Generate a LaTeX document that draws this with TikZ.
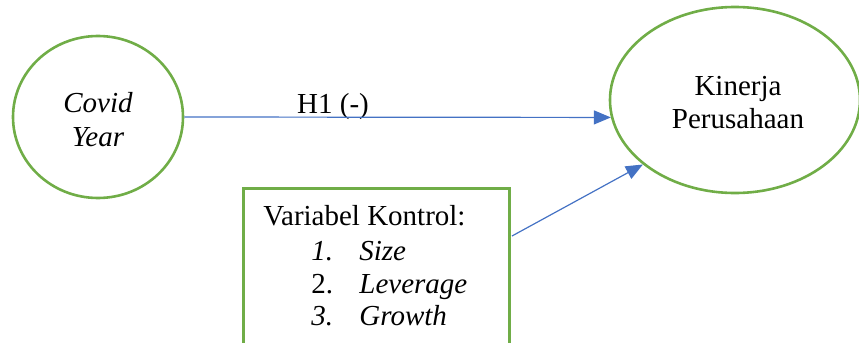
\documentclass[tikz,border=0pt]{standalone}
\usepackage{fontspec}
\setmainfont{Liberation Serif}
\newfontfamily\tnr{Liberation Serif}
\usetikzlibrary{arrows.meta,shapes.geometric}
\definecolor{vgreen}{HTML}{70AD47}
\definecolor{vblue}{HTML}{4472C4}
\tikzset{
  varnode/.style={ellipse, draw=vgreen, line width=1.3pt, inner sep=0pt},
  ctrlbox/.style={rectangle, draw=vgreen, line width=1.3pt, inner sep=0pt},
  txt/.style={inner sep=0pt, font=\tnr\fontsize{14.5}{17}\selectfont},
  conn/.style={draw=vblue, line width=0.6pt, -{Triangle[length=8.5pt,width=7pt]}}
}
\begin{document}
\begin{tikzpicture}[x=0.5pt,y=-0.5pt]
\useasboundingbox (0,0) rectangle (859,343);
\clip (0,0) rectangle (859,343);
\node[varnode, minimum width=85pt, minimum height=81pt] (covid) at (98,117) {};
\node[varnode, minimum width=125pt, minimum height=93pt] (kinerja) at (735,100) {};
\node[ctrlbox, anchor=north west, minimum width=133pt, minimum height=87pt] (box) at (242,187) {};
\node[txt, anchor=base] (covidtxt1) at (98,112) {\itshape Covid};
\node[txt, anchor=base] (covidtxt2) at (98,146) {\itshape Year};
\node[txt, anchor=base] (kintxt1) at (738,95) {Kinerja};
\node[txt, anchor=base] (kintxt2) at (738,128) {Perusahaan};
\node[txt, anchor=base] (h1) at (333,113) {H1 (-)};
\node[txt, anchor=base west] (vk) at (263,225) {Variabel Kontrol:};
\node[txt, anchor=base west] (n1) at (311,260) {\itshape 1.};
\node[txt, anchor=base west] (n2) at (311,293) {2.};
\node[txt, anchor=base west] (n3) at (311,325) {\itshape 3.};
\node[txt, anchor=base west] (i1) at (359,260) {\itshape Size};
\node[txt, anchor=base west] (i2) at (359,293) {\itshape Leverage};
\node[txt, anchor=base west] (i3) at (359,325) {\itshape Growth};
\coordinate (ctrlstart) at (512,236);
\draw[conn] (covid.east) -- (kinerja.188.5);
\draw[conn] (ctrlstart) -- (kinerja.215);
\end{tikzpicture}
\end{document}
